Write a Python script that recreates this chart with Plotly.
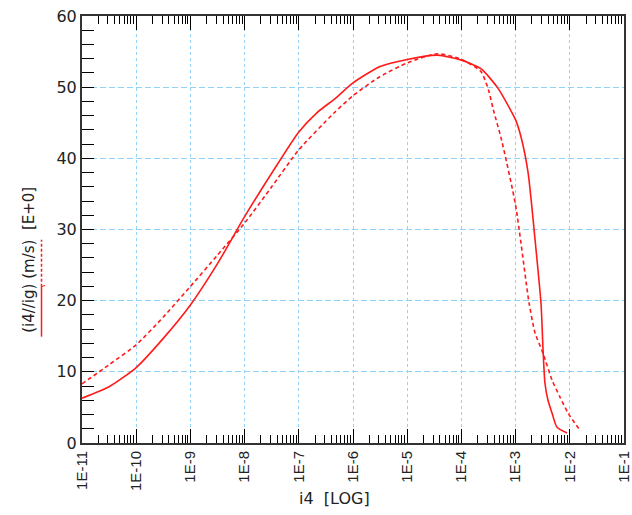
import plotly.graph_objects as go

# ---- data ----
solid_x = [1e-11, 3.16e-11, 1e-10, 3.16e-10, 1e-9, 3.16e-9, 1e-8, 3.16e-8, 1e-7,
           2.15e-7, 4.68e-7, 1e-6, 3.16e-6, 1e-5, 3.63e-5, 1e-4, 2.29e-4, 4.68e-4, 1e-3,
           1.26e-3, 1.70e-3, 2.29e-3, 2.95e-3, 3.21e-3, 3.48e-3, 3.96e-3, 4.70e-3,
           5.81e-3, 8.91e-3]
solid_y = [6.3, 7.9, 10.6, 14.7, 19.4, 25.2, 31.8, 37.9, 43.7,
           46.4, 48.4, 50.6, 52.9, 53.9, 54.5, 53.8, 52.6, 49.9, 45.4,
           43.0, 38.0, 28.5, 19.5, 13.1, 8.4, 6.0, 4.2,
           2.2, 1.4]

dash_x = [1e-11, 3.16e-11, 1e-10, 3.16e-10, 1e-9, 3.16e-9, 1e-8, 3.16e-8, 1e-7,
          4.37e-7, 1e-6, 3.16e-6, 1e-5, 3.63e-5, 1e-4, 2.29e-4, 3.16e-4, 3.89e-4,
          5.50e-4, 1e-3, 1.77e-3, 2.28e-3, 3.21e-3, 4.70e-3, 6.59e-3, 9.27e-3, 1.54e-2]
dash_y = [8.3, 11.0, 13.8, 17.7, 22.0, 26.4, 30.9, 36.0, 41.2,
          46.3, 48.8, 51.5, 53.4, 54.7, 53.9, 52.2, 49.6, 46.8,
          42.6, 33.4, 19.7, 15.5, 12.6, 8.85, 6.46, 4.2, 1.8]

x_tickvals = [1e-11, 1e-10, 1e-9, 1e-8, 1e-7, 1e-6, 1e-5, 1e-4, 1e-3, 1e-2, 1e-1]
x_ticktext = ["1E-11", "1E-10", "1E-9", "1E-8", "1E-7", "1E-6", "1E-5", "1E-4",
              "1E-3", "1E-2", "1E-1"]
y_tickvals = [0, 10, 20, 30, 40, 50, 60]

x_title = "i4  [LOG]"
y_title = "(i4//ig) (m/s)  [E+0]"

# minor tick positions (2..9 in each decade)
minor_vals = []
for e in range(-11, -1):
    for m in range(2, 10):
        minor_vals.append(m * 10.0 ** e)

FONT = "DejaVu Sans, Verdana, sans-serif"
FONT_X = "Liberation Sans, Arial, sans-serif"
GRID = "#92d2f7"
AXC = "#333333"
RED = "#ff1a1a"

fig = go.Figure()
fig.add_trace(go.Scatter(x=solid_x, y=solid_y, mode="lines",
                         line=dict(color=RED, width=1.6, shape="spline", smoothing=0.6),
                         showlegend=False, hoverinfo="skip"))
fig.add_trace(go.Scatter(x=dash_x, y=dash_y, mode="lines",
                         line=dict(color=RED, width=1.6, dash="4px,3px",
                                   shape="spline", smoothing=0.6),
                         showlegend=False, hoverinfo="skip"))

fig.update_xaxes(type="log", range=[-11, -1], tickvals=x_tickvals, ticktext=x_ticktext,
                 tickangle=-90, ticks="inside", ticklen=14, tickcolor="black", tickwidth=1,
                 showgrid=True, gridcolor=GRID, griddash="3px,3px", gridwidth=1,
                 showline=True, linecolor=AXC, linewidth=2, mirror="ticks",
                 zeroline=False, automargin=False,
                 tickfont=dict(family=FONT_X, size=15, color="#222"),
                 minor=dict(tickvals=minor_vals, ticks="inside", ticklen=8,
                            tickcolor="black", tickwidth=1, showgrid=False))
fig.update_yaxes(range=[0, 60], tickvals=y_tickvals, ticks="inside", ticklen=12,
                 tickcolor="black", tickwidth=1,
                 showgrid=True, gridcolor=GRID, griddash="6px,3px", gridwidth=1,
                 showline=True, linecolor=AXC, linewidth=2, mirror=True,
                 zeroline=False, automargin=False,
                 tickfont=dict(family=FONT, size=16, color="#222"),
                 minor=dict(dtick=2, ticks="inside", ticklen=12, tickcolor="black",
                            tickwidth=1, showgrid=False))

fig.add_annotation(text=x_title, xref="paper", yref="paper", x=0.466, y=-0.13,
                   xanchor="center", yanchor="middle", showarrow=False,
                   font=dict(family=FONT, size=16, color="#222"))
fig.add_annotation(text=y_title, xref="paper", yref="paper", x=-0.097, y=0.43,
                   xanchor="center", yanchor="middle", showarrow=False, textangle=-90,
                   font=dict(family=FONT, size=15, color="#222"))

# legend-style line samples under the y title
fig.add_shape(type="line", xref="paper", yref="paper", x0=-0.0747, x1=-0.0747,
              y0=0.249, y1=0.366, line=dict(color=RED, width=1.5))
fig.add_shape(type="line", xref="paper", yref="paper", x0=-0.0747, x1=-0.0747,
              y0=0.366, y1=0.476, line=dict(color=RED, width=1.5, dash="3px,2px"))
fig.add_shape(type="line", xref="paper", yref="paper", x0=-0.0747, x1=-0.068,
              y0=0.366, y1=0.369, line=dict(color=RED, width=1))

fig.update_layout(width=632, height=515, margin=dict(l=82, r=8, t=16, b=72),
                  plot_bgcolor="white", paper_bgcolor="white",
                  font=dict(family=FONT, size=15, color="#222"))

fig.write_html("out.html")
